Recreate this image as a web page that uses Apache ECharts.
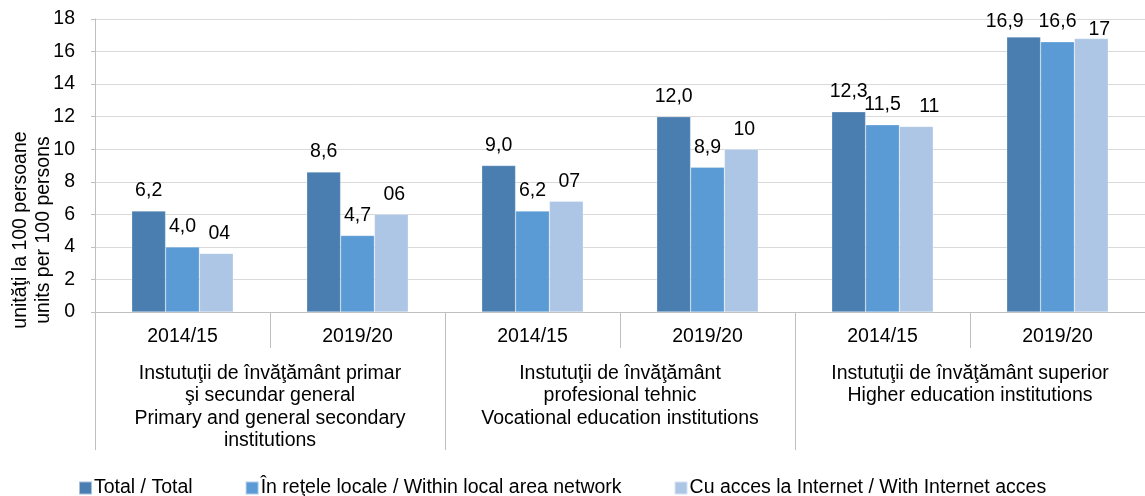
<!DOCTYPE html>
<html>
<head>
<meta charset="utf-8">
<script src="https://cdn.jsdelivr.net/npm/echarts@6/dist/echarts.min.js"></script>
<style>
  html, body { margin: 0; padding: 0; background: #fff; }
  #chart { width: 1145px; height: 496px; }
</style>
</head>
<body>
<div id="chart"></div>
<script>
// date
var years = ['2014/15', '2019/20', '2014/15', '2019/20', '2014/15', '2019/20'];
var groups = [
    'Instutuţii de învăţământ primar\nşi secundar general\nPrimary and general secondary\ninstitutions',
    'Instutuţii de învăţământ\nprofesional tehnic\nVocational education institutions',
    'Instutuţii de învăţământ superior\nHigher education institutions'
];
var seriesNames = ['Total / Total', 'În reţele locale / Within local area network', 'Cu acces la Internet / With Internet acces'];
var totalValues = [6.2, 8.6, 9.0, 12.0, 12.3, 16.9];
var localValues = [4.0, 4.7, 6.2, 8.9, 11.5, 16.6];
var internetValues = [3.6, 6.0, 6.8, 10.0, 11.4, 16.8];
var internetLabels = ['04', '06', '07', '10', '11', '17'];
var yTicks = [0, 2, 4, 6, 8, 10, 12, 14, 16, 18];

var colors = ['#4a7eb0', '#5b9bd5', '#adc6e5'];
var font = 'Liberation Sans, Arial, sans-serif';
var fs = 19.5;
var gray = '#bfbfbf';

// etichete mutate ca in original (ca sa nu se suprapuna)
var labelShift = [
    { 5: [-19, 5] },
    {},
    { 0: [3, 0], 1: [3, 0], 2: [3, 0], 3: [3, 0], 4: [13, 0], 5: [8, 11] }
];

var chart = echarts.init(document.getElementById('chart'));

function commaFmt(p) {
    return p.value.toFixed(1).replace('.', ',');
}

function makeSeries(idx, values, fmt) {
    var data = values.map(function (v, i) {
        var s = labelShift[idx][i];
        return s ? { value: v, label: { offset: s } } : v;
    });
    return {
        name: seriesNames[idx],
        type: 'bar',
        xAxisIndex: 0,
        data: data,
        barGap: '0%',
        barCategoryGap: '42%',
        itemStyle: {
            color: colors[idx],
            borderColor: 'rgba(255,255,255,0.5)',
            borderWidth: 0.5
        },
        label: {
            show: true,
            position: 'top',
            distance: 10,
            color: '#000',
            fontFamily: font,
            fontSize: fs,
            formatter: fmt
        }
    };
}

var option = {
    backgroundColor: '#fff',
    animation: false,
    color: colors,
    grid: { left: 95, right: 0, top: 19, bottom: 184, containLabel: false },
    legend: {
        left: 73,
        top: 473,
        itemWidth: 13,
        itemHeight: 13,
        itemGap: 52,
        icon: 'rect',
        textStyle: { fontFamily: font, fontSize: 19.5, color: '#000', padding: [0, 0, 0, -3] },
        data: seriesNames
    },
    xAxis: [
        {
            type: 'category',
            data: years,
            axisLine: { lineStyle: { color: gray } },
            axisTick: { show: true, interval: 0, length: 36, lineStyle: { color: gray } },
            axisLabel: { interval: 0, margin: 15, color: '#000', fontFamily: font, fontSize: fs }
        },
        {
            type: 'category',
            data: groups,
            position: 'bottom',
            offset: 0,
            axisLine: { show: false },
            axisTick: { show: true, interval: 0, length: 138, lineStyle: { color: gray } },
            axisLabel: {
                interval: 0, margin: 50, color: '#000', fontFamily: font,
                fontSize: fs, lineHeight: 22.5, align: 'center'
            }
        }
    ],
    yAxis: {
        type: 'value',
        min: yTicks[0],
        max: yTicks[yTicks.length - 1],
        interval: 2,
        axisLine: { show: true, lineStyle: { color: gray } },
        axisTick: { show: true, length: 4, lineStyle: { color: gray } },
        splitLine: { lineStyle: { color: '#d9d9d9' } },
        axisLabel: { margin: 20, color: '#000', fontFamily: font, fontSize: fs }
    },
    graphic: [
        {
            type: 'text',
            x: 32,
            y: 230,
            rotation: Math.PI / 2,
            style: {
                text: 'unităţi la 100 persoane\nunits per 100 persons',
                fontFamily: font,
                fontSize: fs,
                lineHeight: 23,
                fill: '#000',
                align: 'center',
                verticalAlign: 'middle'
            }
        }
    ],
    series: [
        makeSeries(0, totalValues, commaFmt),
        makeSeries(1, localValues, commaFmt),
        makeSeries(2, internetValues, function (p) { return internetLabels[p.dataIndex]; })
    ]
};

chart.setOption(option);
</script>
</body>
</html>
